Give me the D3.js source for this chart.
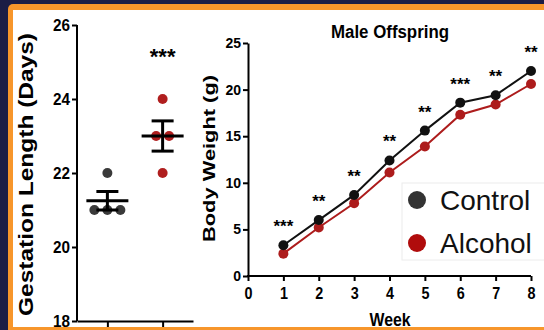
<!DOCTYPE html>
<html>
<head>
<meta charset="utf-8">
<script src="https://cdn.jsdelivr.net/npm/d3@7"></script>
<style>
body { margin: 0; background: #1b1d45; }
svg { display: block; }
text { font-family: Arial, "Liberation Sans", sans-serif; }
</style>
</head>
<body>
<script>
// gestation data (days)
var groups = ["Control", "Alcohol"]
var control_days = [22, 21, 21, 21]
var alcohol_days = [24, 23, 23, 22]
var gest_ticks = [18, 20, 22, 24, 26]

// male offspring body weight (g)
var weeks = [1, 2, 3, 4, 5, 6, 7, 8]
var control_weight = [3.3, 6.0, 8.7, 12.4, 15.6, 18.6, 19.4, 22.0]
var alcohol_weight = [2.4, 5.2, 7.8, 11.1, 13.9, 17.3, 18.4, 20.6]
var week_stars = ["***", "**", "**", "**", "**", "***", "**", "**"]
var weight_ticks = [0, 5, 10, 15, 20, 25]
var week_ticks = [0, 1, 2, 3, 4, 5, 6, 7, 8]

var w = 544, h = 330
var ctrl_col = "#111111", alc_col = "#ad1c1c"

var svg = d3.select("body").append("svg")
.attr("width", w)
.attr("height", h)

// frame
svg.append("rect").attr("width", w).attr("height", h).attr("fill", "#1b1d45")
svg.append("rect").attr("x", 8).attr("y", 4).attr("width", 600).attr("height", 400).attr("rx", 5).attr("fill", "#f7962b")
svg.append("rect").attr("x", 13).attr("y", 10).attr("width", 600).attr("height", 317).attr("fill", "#ffffff")

///////////////////////// left panel
var yL = d3.scaleLinear().domain([18, 26]).range([321, 25])
var xL = d3.scalePoint().domain(groups).range([77, 193]).padding(0.55)

var gL = svg.append("g")
gL.append("g")
.attr("transform", "translate(77,0)")
.call(d3.axisLeft(yL).tickValues(gest_ticks).tickSize(5).tickSizeOuter(0).tickPadding(2))
gL.append("g")
.attr("transform", "translate(0,321)")
.call(d3.axisBottom(xL).tickSize(6).tickSizeOuter(0).tickFormat(""))
gL.selectAll(".domain").attr("stroke", "#000").attr("stroke-width", 2)
gL.selectAll(".tick line").attr("stroke", "#000").attr("stroke-width", 2)
gL.selectAll(".tick text").style("font-size", "16px").style("font-weight", "bold").attr("fill", "#000")
.attr("textLength", 17).attr("lengthAdjust", "spacingAndGlyphs")
gL.select("g").select(".domain").attr("d", "M0,25V321")
gL.selectAll("g").filter(function(d, i) { return i == 1 }).select(".domain").attr("d", "M77,0H193")

// spread equal values sideways
function spread(vals) {
var out = []
vals.forEach(function(v, i) {
var same = vals.filter(function(u) { return u == v })
var k = vals.slice(0, i).filter(function(u) { return u == v }).length
out.push({v: v, off: (k - (same.length - 1) / 2) * 13})
})
return out
}

function draw_group(name, vals, col) {
var cx = xL(name)
var mean = d3.mean(vals)
var sem = d3.deviation(vals) / Math.sqrt(vals.length)
gL.selectAll(null).data(spread(vals)).enter().append("circle")
.attr("cx", function(d) { return cx + d.off })
.attr("cy", function(d) { return yL(d.v) })
.attr("r", 5)
.attr("fill", col)
gL.append("line").attr("x1", cx - 21).attr("x2", cx + 21).attr("y1", yL(mean)).attr("y2", yL(mean))
.attr("stroke", "#000").attr("stroke-width", 3)
gL.append("line").attr("x1", cx).attr("x2", cx).attr("y1", yL(mean - sem)).attr("y2", yL(mean + sem))
.attr("stroke", "#000").attr("stroke-width", 3)
;[mean - sem, mean + sem].forEach(function(v) {
gL.append("line").attr("x1", cx - 11).attr("x2", cx + 11).attr("y1", yL(v)).attr("y2", yL(v))
.attr("stroke", "#000").attr("stroke-width", 3)
})
}
draw_group("Control", control_days, "#3a3a3a")
draw_group("Alcohol", alcohol_days, "#b01e1e")

gL.append("text")
.attr("x", xL("Alcohol"))
.attr("y", 64)
.attr("text-anchor", "middle")
.style("font-size", "22px")
.style("font-weight", "bold")
.text("***")

gL.append("text")
.attr("transform", "translate(33,174.5) rotate(-90)")
.attr("text-anchor", "middle")
.attr("textLength", 283)
.attr("lengthAdjust", "spacingAndGlyphs")
.style("font-size", "20px")
.style("font-weight", "bold")
.text("Gestation Length (Days)")

///////////////////////// right panel
var xR = d3.scaleLinear().domain([0, 8]).range([248, 531])
var yR = d3.scaleLinear().domain([0, 25]).range([276, 43])

var gR = svg.append("g")
var ax_y = gR.append("g")
.attr("transform", "translate(248,0)")
.call(d3.axisLeft(yR).tickValues(weight_ticks).tickSize(5).tickSizeOuter(0).tickPadding(2))
var ax_x = gR.append("g")
.attr("transform", "translate(0,276)")
.call(d3.axisBottom(xR).tickValues(week_ticks).tickSize(5).tickSizeOuter(0).tickPadding(6))
gR.selectAll(".domain").attr("stroke", "#000").attr("stroke-width", 2)
gR.selectAll(".tick line").attr("stroke", "#000").attr("stroke-width", 2)
ax_y.selectAll(".tick text").style("font-size", "14px").style("font-weight", "bold").attr("fill", "#000")
ax_x.selectAll(".tick text").style("font-size", "17px").style("font-weight", "bold").attr("fill", "#000")
.attr("textLength", 8).attr("lengthAdjust", "spacingAndGlyphs")
ax_x.select(".domain").attr("d", "M247,0H531")

var line = d3.line()
.x(function(d, i) { return xR(weeks[i]) })
.y(function(d) { return yR(d) })

gR.append("path").datum(alcohol_weight).attr("d", line).attr("fill", "none").attr("stroke", alc_col).attr("stroke-width", 2)
gR.append("path").datum(control_weight).attr("d", line).attr("fill", "none").attr("stroke", ctrl_col).attr("stroke-width", 2)
gR.selectAll(".alc").data(alcohol_weight).enter().append("circle")
.attr("cx", function(d, i) { return xR(weeks[i]) })
.attr("cy", function(d) { return yR(d) })
.attr("r", 5)
.attr("fill", alc_col)
gR.selectAll(".ctl").data(control_weight).enter().append("circle")
.attr("cx", function(d, i) { return xR(weeks[i]) })
.attr("cy", function(d) { return yR(d) })
.attr("r", 5)
.attr("fill", ctrl_col)

gR.selectAll(".star").data(week_stars).enter().append("text")
.attr("x", function(d, i) { return xR(weeks[i]) })
.attr("y", function(d, i) { return yR(control_weight[i]) - 13 })
.attr("text-anchor", "middle")
.style("font-size", "17px")
.style("font-weight", "bold")
.text(function(d) { return d })

gR.append("text")
.attr("x", 390).attr("y", 38)
.attr("text-anchor", "middle")
.attr("textLength", 118)
.attr("lengthAdjust", "spacingAndGlyphs")
.style("font-size", "18px")
.style("font-weight", "bold")
.text("Male Offspring")

gR.append("text")
.attr("x", 390).attr("y", 326)
.attr("text-anchor", "middle")
.attr("textLength", 41)
.attr("lengthAdjust", "spacingAndGlyphs")
.style("font-size", "18px")
.style("font-weight", "bold")
.text("Week")

gR.append("text")
.attr("transform", "translate(215,158.5) rotate(-90)")
.attr("text-anchor", "middle")
.attr("textLength", 167)
.attr("lengthAdjust", "spacingAndGlyphs")
.style("font-size", "16px")
.style("font-weight", "bold")
.text("Body Weight (g)")

// legend
var legend = svg.append("g")
legend.append("rect").attr("x", 402).attr("y", 183).attr("width", 150).attr("height", 77)
.attr("fill", "#fff").attr("stroke", "#ececec")
;[["Control", "#333333"], ["Alcohol", "#b00c0c"]].forEach(function(d, i) {
legend.append("circle").attr("cx", 417).attr("cy", 200 + i * 43).attr("r", 9).attr("fill", d[1])
legend.append("text").attr("x", 440).attr("y", 210 + i * 43)
.style("font-size", "28px").attr("fill", "#111").text(d[0])
})
</script>
</body>
</html>
